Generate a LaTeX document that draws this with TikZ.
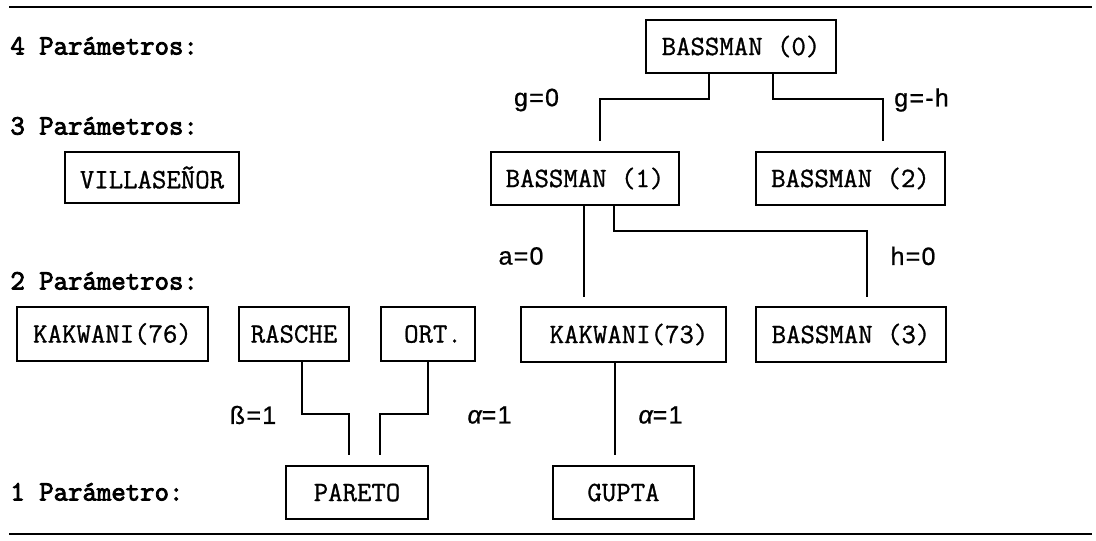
\documentclass[tikz,border=0pt]{standalone}
\usepackage{fontspec}
\newfontfamily\boxfont[FakeBold=1]{Latin Modern Mono}
\newfontfamily\levelfont[FakeBold=3]{Latin Modern Mono}
\newfontfamily\edgefont[LetterSpace=5,FakeBold=0.8]{Liberation Sans}
\begin{document}
\begin{tikzpicture}[x=0.5pt,y=-0.5pt,
  box/.style={draw,line width=0.9pt,inner sep=0pt,minimum height=26.5pt,
    font=\fontsize{14pt}{16pt}\selectfont\boxfont},
  level/.style={anchor=base west,inner sep=0pt,
    font=\fontsize{14pt}{16pt}\selectfont\levelfont},
  elabel/.style={inner sep=0pt,font=\fontsize{12.5pt}{14pt}\selectfont\edgefont},
  conn/.style={line width=0.9pt},
  rule/.style={line width=1.4pt}]
\useasboundingbox (0,0) rectangle (1096,540);

% rules
\draw[rule] (9,7) -- (1092,7);
\draw[rule] (9,534) -- (1092,534);

% level labels
\node[level] (l4) at (10,54.5) {4 Parámetros:};
\node[level] (l3) at (10,134.5) {3 Parámetros:};
\node[level] (l2) at (10,289.5) {2 Parámetros:};
\node[level] (l1) at (10,500.5) {1 Parámetro:};

% boxes
\node[box,minimum width=95pt] (b0) at (741,46.5) {BASSMAN (0)};
\node[box,minimum width=94pt] (b1) at (585,178.5) {BASSMAN (1)};
\node[box,minimum width=94.5pt] (b2) at (850.5,178.5) {BASSMAN (2)};
\node[box,minimum width=87pt,minimum height=25.5pt] (vil) at (152,177.5) {VILLASEÑOR};
\node[box,minimum width=95.5pt,minimum height=27pt] (k76) at (112.5,334) {KAKWANI(76)};
\node[box,minimum width=55pt,minimum height=27pt] (ras) at (294,334) {RASCHE};
\node[box,minimum width=47pt,minimum height=27pt] (ort) at (428,334) {\hspace{5pt}ORT.};
\node[box,minimum width=102.5pt,minimum height=27.5pt] (k73) at (623.5,334.5) {\hspace{5.5pt}KAKWANI(73)};
\node[box,minimum width=95pt,minimum height=27.5pt] (b3) at (851,334.5) {BASSMAN (3)};
\node[box,minimum width=71pt] (par) at (357,492.5) {PARETO};
\node[box,minimum width=70.5pt] (gup) at (623.5,492.5) {GUPTA\hspace{9pt}};

% free ends of connectors
\coordinate (t1) at (600,141);
\coordinate (t2) at (883,141);
\coordinate (t3) at (584,297);
\coordinate (t4) at (867,297);
\coordinate (t5) at (349,455);
\coordinate (t6) at (380,455);
\coordinate (t7) at (615,455);

% connectors
\draw[conn] ([xshift=-16pt]b0.south) -- ++(0,25) -| (t1);
\draw[conn] ([xshift=16pt]b0.south) -- ++(0,25) -| (t2);
\draw[conn] (b1.south -| t3) -- (t3);
\draw[conn] ([xshift=14.5pt]b1.south) -- ++(0,25) -| (t4);
\draw[conn] ([xshift=4pt]ras.south) -- ++(0,52) -| (t5);
\draw[conn] (ort.south) -- ++(0,52) -| (t6);
\draw[conn] (k73.south -| t7) -- (t7);

% edge labels
\node[elabel] (eg0) at (536.5,100) {g=0};
\node[elabel] (egh) at (921.5,100) {g=-h};
\node[elabel] (ea0) at (521,256) {a=0};
\node[elabel] (eh0) at (913,256) {h=0};
\node[elabel] (eb1) at (253,415) {ß=1};
\node[elabel] (eal1) at (489.5,415) {{\itshape α}=1};
\node[elabel] (eal2) at (660.5,415) {{\itshape α}=1};
\end{tikzpicture}
\end{document}
